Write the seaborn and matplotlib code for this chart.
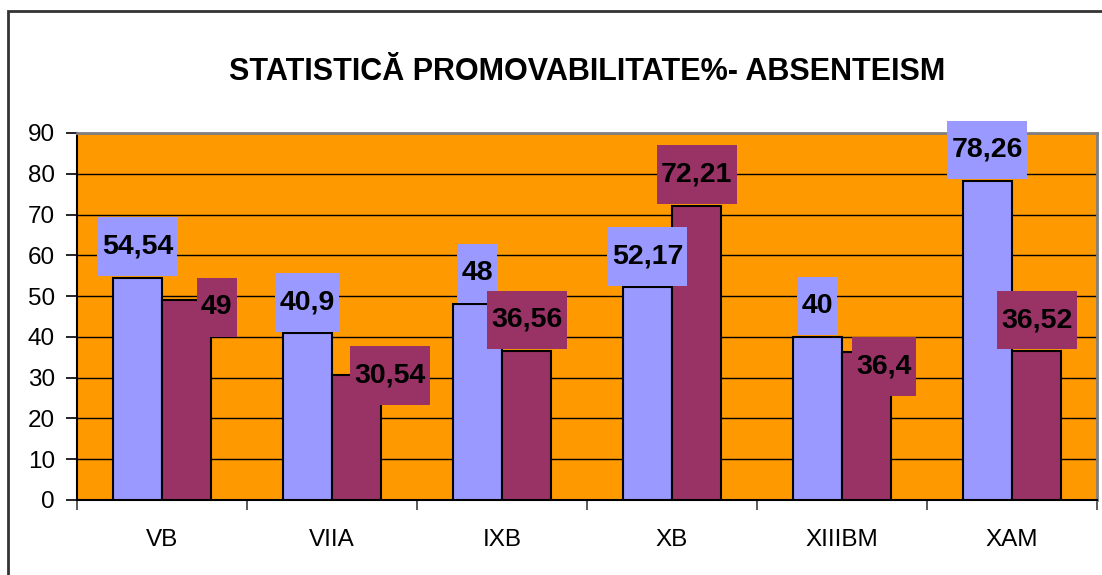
import numpy as np
import pandas as pd
import seaborn as sns
import matplotlib.pyplot as plt
from matplotlib.path import Path
from matplotlib.patches import Rectangle

# date
clase = ["VB", "VIIA", "IXB", "XB", "XIIIBM", "XAM"]
promovabilitate = [54.54, 40.9, 48, 52.17, 40, 78.26]
absenteism = [49, 30.54, 36.56, 72.21, 36.4, 36.52]
serii = ["Promovabilitate", "Absenteism"]

culori = ["#9999FF", "#993366"]
fundal = "#FF9900"

# deplasarea etichetelor fata de varful barei (pixeli), ca in Excel
depl_prom = [(0, 31), (0, 31), (0, 31), (0, 31), (0, 31), (0, 31)]
depl_abs = [(30, -7), (33, 0), (0, 31), (0, 31), (17, -15), (0, 31)]

plt.rcParams['font.family'] = ['Liberation Sans', 'DejaVu Sans']

df = pd.DataFrame({
    "clasa": clase * 2,
    "serie": [serii[0]] * len(clase) + [serii[1]] * len(clase),
    "valoare": promovabilitate + absenteism,
})

fig = plt.figure(figsize=(11.02, 5.75), dpi=100)
ax = fig.add_axes([77 / 1102, 1 - 500 / 575, 1020 / 1102, 367 / 575])
ax.set_facecolor(fundal)

sns.barplot(data=df, x="clasa", y="valoare", hue="serie", palette=culori,
            width=0.58, edgecolor="black", linewidth=1.5, legend=False,
            saturation=1, ax=ax, zorder=3)

ax.set_xlim(-0.5, len(clase) - 0.5)
ax.set_ylim(0, 90)
ax.set_yticks(np.arange(0, 91, 10))
ax.yaxis.grid(True, color="black", linewidth=1, zorder=1)
ax.set_axisbelow(True)

# tick-uri intre categorii, etichete la mijloc
ax.set_xticks(np.arange(-0.5, len(clase), 1))
ax.set_xticklabels([])
ax.set_xticks(np.arange(len(clase)), minor=True)
ax.set_xticklabels(clase, minor=True, fontsize=17.5)
ax.tick_params(axis="x", which="minor", length=0, pad=21)
ax.tick_params(axis="x", which="major", length=7, color="#404040", width=1.2)
ax.tick_params(axis="y", length=8, width=1.2, labelsize=17.5, pad=8)
ax.set_xlabel("")
ax.set_ylabel("")

for s in ["top", "right"]:
    ax.spines[s].set_color("#808080")
    ax.spines[s].set_linewidth(2)
ax.spines["left"].set_linewidth(1.5)
ax.spines["bottom"].set_linewidth(1.5)


# cutia etichetei: putin loc lateral, inalta pe verticala
def cutie(x0, y0, width, height, mutation_size):
    px = 0.15 * mutation_size
    cy = y0 + height / 2
    hy = 1.03 * mutation_size
    a, b = x0 - px, x0 + width + px
    return Path([(a, cy - hy), (b, cy - hy), (b, cy + hy), (a, cy + hy), (a, cy - hy)], closed=True)


for cont, culoare, depl in zip(ax.containers, culori, [depl_prom, depl_abs]):
    for bara, (dx, dy) in zip(cont, depl):
        v = bara.get_height()
        text = f"{v:g}".replace(".", ",")
        ax.annotate(text, xy=(bara.get_x() + bara.get_width() / 2, v),
                    xytext=(dx, dy), textcoords="offset pixels",
                    ha="center", va="center", fontsize=20.5, fontweight="bold",
                    color="black", zorder=5, annotation_clip=False,
                    bbox=dict(boxstyle=cutie, fc=culoare, ec="none"))

ax.set_title("STATISTICĂ PROMOVABILITATE%- ABSENTEISM", fontsize=22,
             fontweight="bold", pad=38)

# chenarul diagramei
fig.patches.append(Rectangle((8 / 1102, -0.2), 1.2, 1.2 - 11 / 575,
                             transform=fig.transFigure, fill=False,
                             edgecolor="#333333", linewidth=2))

plt.savefig("out.png", dpi=100)
